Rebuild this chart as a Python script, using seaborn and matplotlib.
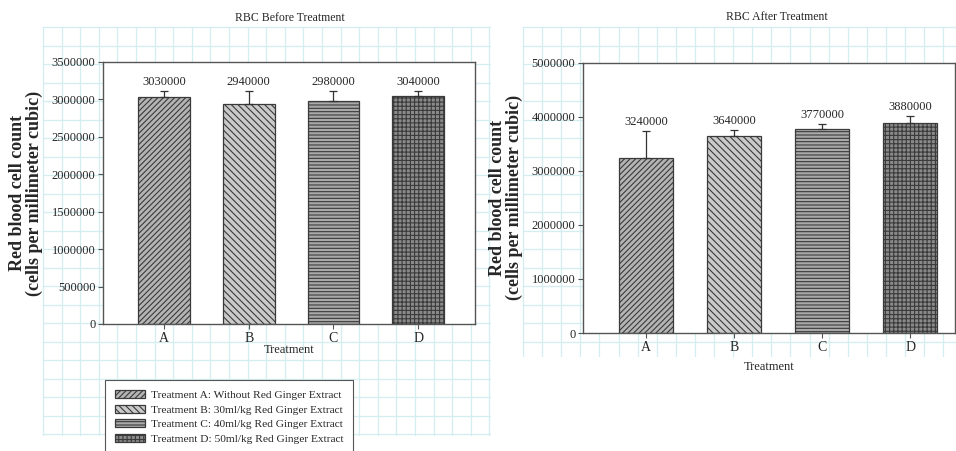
import numpy as np
import matplotlib
matplotlib.use("Agg")
import matplotlib.pyplot as plt
import seaborn as sns

# ---------------- data ----------------
categories = ["A", "B", "C", "D"]
before_values = [3030000, 2940000, 2980000, 3040000]
before_errors = [80000, 170000, 130000, 70000]
after_values = [3240000, 3640000, 3770000, 3880000]
after_errors = [500000, 120000, 90000, 130000]
before_yticks = [0, 500000, 1000000, 1500000, 2000000, 2500000, 3000000, 3500000]
after_yticks = [0, 1000000, 2000000, 3000000, 4000000, 5000000]
legend_labels = [
    "Treatment A: Without Red Ginger Extract",
    "Treatment B: 30ml/kg Red Ginger Extract",
    "Treatment C: 40ml/kg Red Ginger Extract",
    "Treatment D: 50ml/kg Red Ginger Extract",
]
titles = ["RBC Before Treatment", "RBC After Treatment"]
ylabel = "Red blood cell count\n(cells per millimeter cubic)"
xlabel = "Treatment"

# ---------------- style ----------------
sns.set_style("white")
plt.rcParams["font.family"] = ["Liberation Serif", "DejaVu Serif"]
plt.rcParams["hatch.linewidth"] = 0.8

face_colors = ["#b4b4b4", "#cacaca", "#a9a9a9", "#8a8a8a"]
hatches = ["//////", "\\\\\\\\\\", "-----", "++++"]
edge_col = "#3a3a3a"
spine_col = "#555555"
grid_col = "#d3eef0"

W, H = 956, 451
fig = plt.figure(figsize=(W / 100, H / 100), dpi=100)

# graph-paper background (decoration)
bg = fig.add_axes([0, 0, 1, 1], zorder=-10)
bg.set_xlim(0, W)
bg.set_ylim(H, 0)
bg.axis("off")


def paper(x0, x1, y0, y1, dx, dy):
    for x in np.arange(x0, x1 + 0.1, dx):
        bg.plot([x, x], [y0, y1], color=grid_col, lw=0.9)
    for y in np.arange(y0, y1 + 0.1, dy):
        bg.plot([x0, x1], [y, y], color=grid_col, lw=0.9)


paper(43, 490, 27, 435, 18.6, 18.5)
paper(523, 956, 27, 356, 19.1, 18.5)


def panel(rect, values, errors, yticks, xlim, title, title_xy, xlabel_y):
    ax = fig.add_axes(rect)
    ax.set_facecolor("white")
    sns.barplot(x=categories, y=values, hue=categories, palette=face_colors,
                legend=False, errorbar=None, width=0.61, ax=ax,
                edgecolor=edge_col, linewidth=0.9, zorder=2)
    for p, h in zip(ax.patches, hatches):
        p.set_hatch(h)
        p.set_edgecolor(edge_col)
    xs = np.arange(len(categories))
    ax.errorbar(xs, values, yerr=[[0] * len(values), errors], fmt="none",
                ecolor="#333333", elinewidth=0.9, capsize=3, capthick=0.9, zorder=3)
    for x, v, e in zip(xs, values, errors):
        ax.annotate(f"{v}", (x, v + e), xytext=(0, 2), textcoords="offset points",
                    ha="center", va="bottom", fontsize=9)
    ax.set_ylim(0, yticks[-1])
    ax.set_yticks(yticks)
    ax.set_yticklabels([str(t) for t in yticks], fontsize=9)
    ax.set_xlim(*xlim)
    ax.set_xticks(xs)
    ax.set_xticklabels(categories, fontsize=10)
    ax.tick_params(axis="both", direction="out", length=3.5, width=0.8,
                   color=spine_col, pad=2, left=True, bottom=True)
    for s in ax.spines.values():
        s.set_color(spine_col)
        s.set_linewidth(1.0)
        s.set_visible(True)
    ax.set_ylabel(ylabel, fontsize=13, fontweight="bold", labelpad=6, linespacing=1.0)
    ax.set_xlabel("")
    fig.text(title_xy[0] / W, 1 - title_xy[1] / H, title, ha="center", va="center",
             fontsize=8.5)
    fig.text((rect[0] + rect[2] / 2), 1 - xlabel_y / H, xlabel, ha="center",
             va="center", fontsize=9)
    return ax


ax1 = panel([103 / W, 1 - 324 / H, (475 - 103) / W, (324 - 62) / H],
            before_values, before_errors, before_yticks, (-0.72, 3.67),
            titles[0], (290, 18), 350)
ax2 = panel([583 / W, 1 - 333 / H, (955 - 583) / W, (333 - 62.5) / H],
            after_values, after_errors, after_yticks, (-0.72, 3.51),
            titles[1], (777, 17), 367)

handles = list(ax1.patches[:4])
leg = fig.legend(handles, legend_labels, loc="upper left",
                 bbox_to_anchor=(105 / W, 1 - 380 / H), fontsize=8.2,
                 frameon=True, fancybox=False, edgecolor="#555555",
                 framealpha=1, handlelength=2.6, handleheight=0.7,
                 labelspacing=0.4, handletextpad=0.5, borderpad=0.9,
                 borderaxespad=0)
leg.get_frame().set_linewidth(0.8)

fig.savefig("out.png", dpi=100)
